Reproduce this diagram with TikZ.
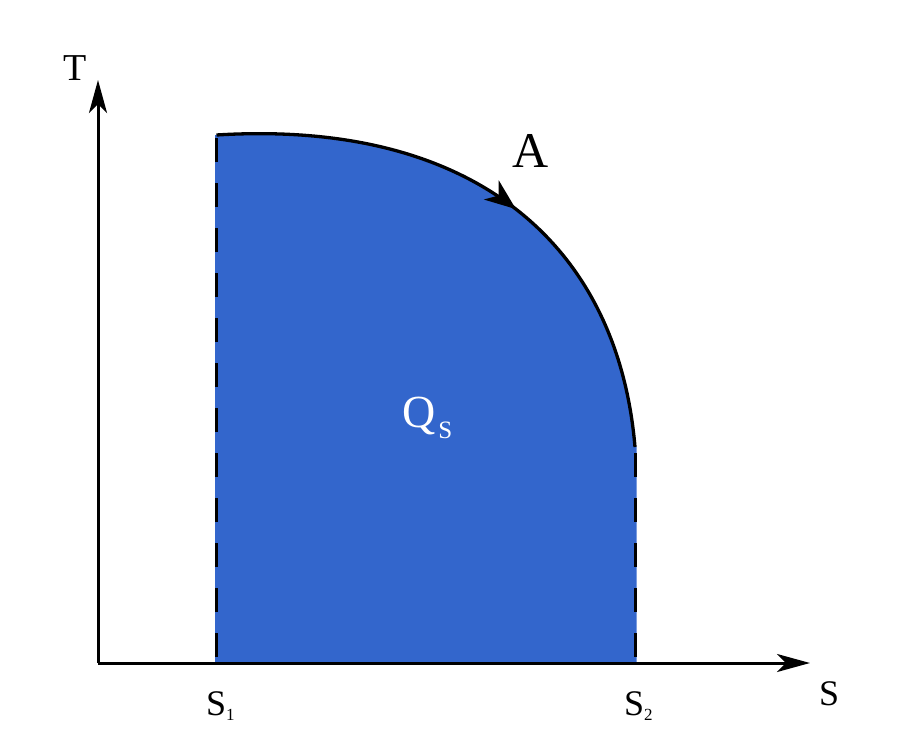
\documentclass[tikz,border=0pt]{standalone}
\usepackage{fontspec}
\setmainfont{Liberation Serif}
\usetikzlibrary{arrows.meta,decorations.markings}
\definecolor{regionblue}{RGB}{51,102,204}
\tikzset{
  axis/.style={line width=3pt,-{Stealth[length=33pt,width=18pt,inset=9pt]}},
  bound/.style={line width=3pt,dash pattern=on 24pt off 21pt},
  cyclecurve/.style={line width=3.3pt,postaction={decorate},
    decoration={markings,mark=at position 0.535 with {\arrow{Stealth[length=31pt,width=24pt,inset=9pt]}}}},
  lbl/.style={inner sep=0pt,anchor=base west},
}
\begin{document}
\begin{tikzpicture}[x=1pt,y=-1pt]
\useasboundingbox (0,0) rectangle (900,750);
% coordinates
\coordinate (O) at (98,663);
\coordinate (Ttip) at (98,80);
\coordinate (Stip) at (810,663);
\coordinate (B1) at (216.5,663);
\coordinate (P1) at (216.5,135);
\coordinate (P2) at (635,447);
\coordinate (B2) at (635,663);
% region
\fill[regionblue] (215,663) -- (215,135) -- (P1) .. controls (477,119) and (618,247) .. (P2) -- (636.5,447) -- (636.5,663) -- cycle;
% boundaries
\draw[bound,dash phase=42pt] (P1) -- (B1);
\draw[bound,dash phase=39pt] (P2) -- (B2);
\draw[cyclecurve] (P1) .. controls (477,119) and (618,247) .. (P2);
% axes
\draw[axis] (O) -- (Ttip);
\draw[axis] (O) -- (Stip);
% labels
\node[lbl,font=\fontsize{38}{38}\selectfont] (T) at (63,80) {T};
\node[lbl,font=\fontsize{36}{36}\selectfont] (S) at (819,705) {S};
\node[lbl,font=\fontsize{50}{50}\selectfont] (A) at (512,167) {A};
\node[lbl,font=\fontsize{36}{36}\selectfont] (S1) at (206,715) {S\raisebox{-5pt}{\fontsize{17}{17}\selectfont 1}};
\node[lbl,font=\fontsize{36}{36}\selectfont] (S2) at (624,715) {S\raisebox{-5pt}{\fontsize{17}{17}\selectfont 2}};
\node[lbl,font=\fontsize{46}{46}\selectfont,text=white] (Q) at (402,427) {Q\hspace{3pt}\raisebox{-11pt}{\fontsize{25}{25}\selectfont S}};
\end{tikzpicture}
\end{document}
